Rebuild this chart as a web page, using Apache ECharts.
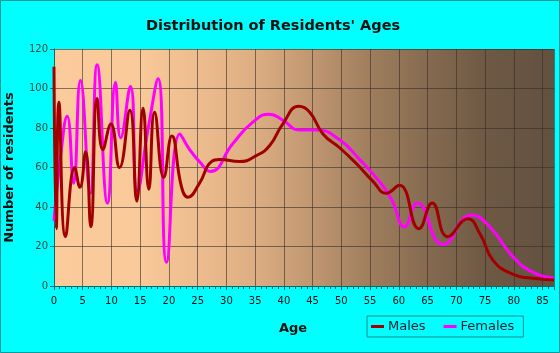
<!DOCTYPE html>
<html lang="en">
<head>
    <meta charset="utf-8">
    <title>Distribution of Residents' Ages</title>
    <script src="https://cdn.jsdelivr.net/npm/echarts@6/dist/echarts.min.js"></script>
    <style>
        html, body { margin: 0; padding: 0; background: #00ffff; }
        #main { width: 560px; height: 353px; }
    </style>
</head>
<body>
<div id="main"></div>

<script type="text/javascript">
    // ages, [age, residents]
    var males = [
        [0, 111], [0.4, 29], [0.85, 93], [2.0, 25], [3.6, 60], [4.5, 50], [5.5, 68],
        [6.4, 30], [7.5, 95], [8.5, 69], [9.9, 82], [11.4, 60], [13.2, 89], [14.4, 43],
        [15.5, 90], [16.5, 49], [17.5, 88], [19.1, 55], [20.5, 76], [22.2, 50], [23.3, 45],
        [25.3, 52], [27.4, 63], [28.8, 64], [32.3, 63], [35.2, 66], [37.5, 71], [39.8, 82],
        [42.6, 91], [44.5, 88], [46.8, 77], [49.7, 70], [52.6, 62], [55.5, 53], [57.8, 47],
        [60.1, 51], [63.5, 29], [65.8, 42], [68.5, 25], [72, 34], [74.2, 26], [76.4, 13],
        [79.8, 6], [83, 4], [87, 3]
    ];
    var females = [
        [0, 33], [1, 62], [2.3, 86], [3.4, 52], [4.6, 104], [6.3, 47], [7.5, 112],
        [9.3, 42], [10.7, 103], [11.6, 75], [13.3, 101], [14.5, 48], [16.4, 80], [18.1, 105],
        [19.6, 12], [21.9, 77], [23.6, 69], [25.3, 63], [27.2, 58], [31.1, 72], [34.6, 83],
        [37.5, 87], [39.8, 84], [42.7, 79], [45.6, 79], [49.7, 74], [53.2, 64], [56.6, 53],
        [58.7, 44], [61, 30], [63.2, 42], [67.7, 21], [72.6, 36], [75.8, 30], [79.8, 15],
        [83.3, 7], [87, 4]
    ];
    var seriesNames = ['Males', 'Females'];

    var myChart = echarts.init(document.getElementById('main'));

    var font = 'DejaVu Sans, Verdana, sans-serif';

    myChart.setOption({
        backgroundColor: '#00ffff',
        animation: false,
        title: {
            text: "Distribution of Residents' Ages",
            left: 268,
            top: 14,
            textAlign: 'center',
            textStyle: { fontFamily: font, fontSize: 14.5, fontWeight: 'bold', color: '#111' }
        },
        graphic: [{
            type: 'rect',
            shape: { x: 0.5, y: 0.5, width: 559, height: 352 },
            style: { fill: null, stroke: '#119999', lineWidth: 1 },
            silent: true
        }],
        legend: {
            data: seriesNames,
            left: 367,
            top: 316,
            padding: [4, 9, 4, 4],
            itemGap: 18,
            itemWidth: 13,
            itemHeight: 3,
            icon: 'rect',
            borderColor: '#1a8a8a',
            borderWidth: 1,
            textStyle: { fontFamily: font, fontSize: 13, color: '#223', padding: [0, 0, 0, -1] }
        },
        grid: {
            left: 54,
            right: 6,
            top: 49,
            bottom: 67,
            outerBoundsMode: 'none',
            show: true,
            borderWidth: 0,
            backgroundColor: new echarts.graphic.LinearGradient(0, 0, 1, 0, [
                { offset: 0, color: '#fbcb9b' },
                { offset: 0.17, color: '#f9c999' },
                { offset: 0.29, color: '#edbc8e' },
                { offset: 0.40, color: '#ddae82' },
                { offset: 0.52, color: '#bf9670' },
                { offset: 0.63, color: '#a07e5e' },
                { offset: 0.75, color: '#856a50' },
                { offset: 0.86, color: '#6f5944' },
                { offset: 1, color: '#625140' }
            ])
        },
        xAxis: {
            type: 'value',
            min: 0,
            max: 87,
            interval: 5,
            name: 'Age',
            nameLocation: 'middle',
            nameGap: 36,
            nameTextStyle: { fontFamily: font, fontSize: 13, fontWeight: 'bold', color: '#111', padding: [0, 22, 0, 0] },
            axisLine: { lineStyle: { color: '#116666', width: 1 } },
            axisTick: { length: 4, lineStyle: { color: '#116666' } },
            minorTick: { show: true, splitNumber: 5, length: 3, lineStyle: { color: '#116666' } },
            axisLabel: { showMaxLabel: false, fontFamily: font, fontSize: 10, color: '#111', margin: 10 },
            splitLine: { show: true, lineStyle: { color: 'rgba(55,45,40,0.6)', width: 1 } }
        },
        yAxis: {
            type: 'value',
            min: 0,
            max: 120,
            interval: 20,
            name: 'Number of residents',
            nameLocation: 'middle',
            nameGap: 38,
            nameTextStyle: { fontFamily: font, fontSize: 13, fontWeight: 'bold', color: '#111' },
            axisLine: { show: true, lineStyle: { color: '#116666', width: 1 } },
            axisTick: { show: true, length: 4, lineStyle: { color: '#116666' } },
            axisLabel: { fontFamily: font, fontSize: 10, color: '#2c4a3c', margin: 6 },
            splitLine: { show: true, lineStyle: { color: 'rgba(55,45,40,0.6)', width: 1 } }
        },
        series: [{
            name: 'Males',
            type: 'line',
            data: males,
            smooth: 0.5,
            showSymbol: false,
            z: 3,
            itemStyle: { color: '#a00000' },
            lineStyle: { color: '#a00000', width: 3 }
        }, {
            name: 'Females',
            type: 'line',
            data: females,
            smooth: 0.5,
            showSymbol: false,
            z: 2,
            itemStyle: { color: '#ff00ff' },
            lineStyle: { color: '#ff00ff', width: 3 }
        }]
    });
</script>
</body>
</html>
